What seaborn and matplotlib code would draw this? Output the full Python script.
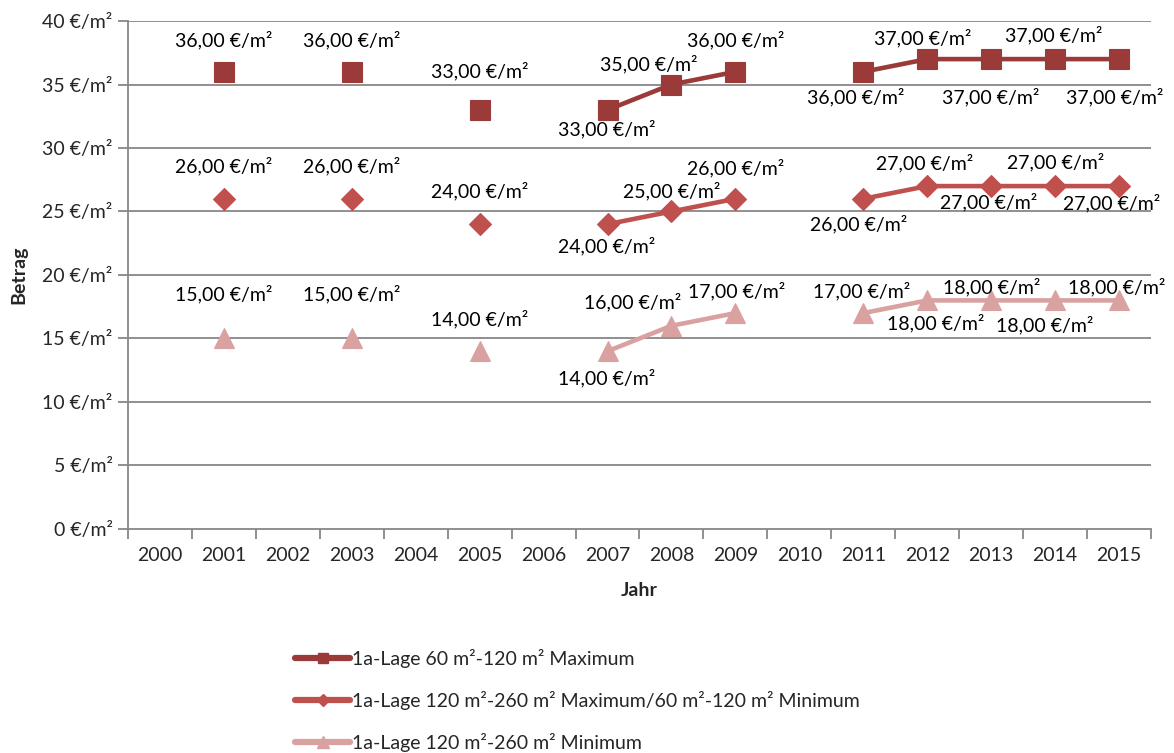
import numpy as np
import pandas as pd
import matplotlib
matplotlib.use("Agg")
import matplotlib.pyplot as plt
from matplotlib.lines import Line2D
import seaborn as sns

# Category axis: one slot per year
years = ["2000", "2001", "2002", "2003", "2004", "2005", "2006", "2007",
         "2008", "2009", "2010", "2011", "2012", "2013", "2014", "2015"]

nan = np.nan
max_60_120 = [nan, 36, nan, 36, nan, 33, nan, 33, 35, 36, nan, 36, 37, 37, 37, 37]
max_120_260 = [nan, 26, nan, 26, nan, 24, nan, 24, 25, 26, nan, 26, 27, 27, 27, 27]
min_120_260 = [nan, 15, nan, 15, nan, 14, nan, 14, 16, 17, nan, 17, 18, 18, 18, 18]

series_names = [
    "1a-Lage 60 m²-120 m² Maximum",
    "1a-Lage 120 m²-260 m² Maximum/60 m²-120 m² Minimum",
    "1a-Lage 120 m²-260 m² Minimum",
]

y_ticks = [0, 5, 10, 15, 20, 25, 30, 35, 40]

# Styling per series
colors = ["#9b3b39", "#c0504d", "#d9a2a1"]
markers = ["s", "D", "^"]
marker_sizes = [14.0, 11.0, 14.5]

# Value label offsets in pixels (dx, dy; dy positive = below the point)
label_offsets = [
    {1: (0, -32), 3: (0, -32), 5: (0, -39), 7: (-1, 19), 8: (-23, -20), 9: (0, -32),
     11: (-8, 25), 12: (-5, -21), 13: (0, 38), 14: (-1, -24), 15: (-4, 38)},
    {1: (0, -33), 3: (0, -33), 5: (0, -33), 7: (-1, 22), 8: (0, -20), 9: (0, -31),
     11: (-5, 25), 12: (-3, -23), 13: (-3, 16), 14: (1, -24), 15: (-7, 17)},
    {1: (0, -44), 3: (0, -44), 5: (0, -32), 7: (-1, 27), 8: (-39, -24), 9: (1, -22),
     11: (-2, -22), 12: (8, 23), 13: (1, -13), 14: (-10, 25), 15: (-2, -13)},
]

sns.set_theme(style="white")
plt.rcParams["font.family"] = ["Lato", "DejaVu Sans"]
FS = 14
GRID = "#878787"


def to_frame(values):
    """Long-form frame with a segment id so gaps break the line."""
    rows = []
    seg = 0
    prev_nan = True
    for i, v in enumerate(values):
        if np.isnan(v):
            prev_nan = True
            continue
        if prev_nan:
            seg += 1
        prev_nan = False
        rows.append({"pos": i, "value": v, "segment": seg})
    return pd.DataFrame(rows)


fig = plt.figure(figsize=(11.74, 7.53), dpi=100)
ax = fig.add_axes([0.109, 0.2975, 0.8714, 0.6746])

for vals, col, mk, ms in zip([max_60_120, max_120_260, min_120_260], colors, markers, marker_sizes):
    df = to_frame(vals)
    sns.lineplot(data=df, x="pos", y="value", units="segment", estimator=None,
                 color=col, marker=mk, markersize=ms, markeredgewidth=0.8,
                 markeredgecolor=col, linewidth=3.3, legend=False, ax=ax, zorder=3)

for vals, offs in zip([max_60_120, max_120_260, min_120_260], label_offsets):
    for i, v in enumerate(vals):
        if np.isnan(v):
            continue
        dx, dy = offs[i]
        ax.annotate(f"{v:.2f}".replace(".", ",") + " €/m²", (i, v),
                    xytext=(dx, -dy), textcoords="offset pixels",
                    ha="center", va="center", fontsize=FS, color="black", zorder=5)

# Axes limits and grid
ax.set_xlim(-0.5, len(years) - 0.5)
ax.set_ylim(0, 40)
ax.set_yticks(y_ticks)
ax.set_yticklabels([f"{t} €/m²" for t in y_ticks], fontsize=FS)
for t in y_ticks[1:]:
    ax.axhline(t, color=GRID, linewidth=1.3, zorder=1)

ax.set_xticks(np.arange(-0.5, len(years), 1.0))
ax.set_xticklabels([])
ax.set_xticks(np.arange(len(years)), minor=True)
ax.set_xticklabels(years, minor=True, fontsize=FS)
ax.tick_params(axis="x", which="major", length=7, width=1.3, color=GRID, direction="out", bottom=True)
ax.tick_params(axis="x", which="minor", length=0, pad=13)
ax.tick_params(axis="y", which="major", length=7, width=1.3, color=GRID, direction="out", left=True, pad=4)

for side in ["top", "right"]:
    ax.spines[side].set_visible(False)
for side in ["left", "bottom"]:
    ax.spines[side].set_color(GRID)
    ax.spines[side].set_linewidth(1.3)
ax.grid(False)

ax.set_xlabel("Jahr", fontsize=FS, fontweight="bold", labelpad=13)
ax.set_ylabel("Betrag", fontsize=FS, fontweight="bold", labelpad=11)

handles = [Line2D([0], [0], color=c, marker=m, markersize=s * 0.55, linewidth=4.5,
                  markeredgecolor=c) for c, m, s in zip(colors, markers, marker_sizes)]
fig.legend(handles, series_names, loc="upper left", bbox_to_anchor=(0.245, 0.149),
           frameon=False, fontsize=FS, handlelength=2.8, handletextpad=0.1,
           labelspacing=1.2, borderaxespad=0)

fig.savefig("out.png", dpi=100)
